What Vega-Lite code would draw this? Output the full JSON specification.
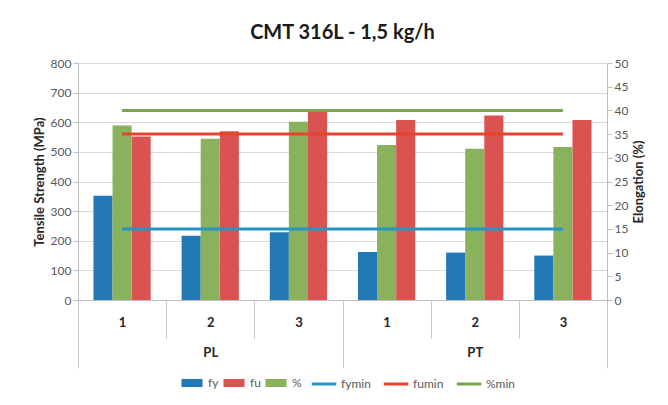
{
  "$schema": "https://vega.github.io/schema/vega-lite/v6.json",
  "width": 529,
  "height": 237,
  "autosize": "none",
  "padding": {"left": 78, "top": 63, "right": 61, "bottom": 105},
  "background": "white",
  "title": {"text": "CMT 316L - 1,5 kg/h", "font": "Lato", "fontSize": 20, "fontWeight": "bold", "color": "#1a1a1a", "offset": 14, "anchor": "middle"},
  "datasets": {
    "bars": [
      {"grp": "PL", "cat": "PL-1", "series": "fy", "value": 352},
      {"grp": "PL", "cat": "PL-1", "series": "%", "value": 36.8},
      {"grp": "PL", "cat": "PL-1", "series": "fu", "value": 552},
      {"grp": "PL", "cat": "PL-2", "series": "fy", "value": 217},
      {"grp": "PL", "cat": "PL-2", "series": "%", "value": 34.0},
      {"grp": "PL", "cat": "PL-2", "series": "fu", "value": 570},
      {"grp": "PL", "cat": "PL-3", "series": "fy", "value": 229},
      {"grp": "PL", "cat": "PL-3", "series": "%", "value": 37.6},
      {"grp": "PL", "cat": "PL-3", "series": "fu", "value": 639},
      {"grp": "PT", "cat": "PT-1", "series": "fy", "value": 162},
      {"grp": "PT", "cat": "PT-1", "series": "%", "value": 32.7},
      {"grp": "PT", "cat": "PT-1", "series": "fu", "value": 608},
      {"grp": "PT", "cat": "PT-2", "series": "fy", "value": 160},
      {"grp": "PT", "cat": "PT-2", "series": "%", "value": 31.9},
      {"grp": "PT", "cat": "PT-2", "series": "fu", "value": 623},
      {"grp": "PT", "cat": "PT-3", "series": "fy", "value": 150},
      {"grp": "PT", "cat": "PT-3", "series": "%", "value": 32.3},
      {"grp": "PT", "cat": "PT-3", "series": "fu", "value": 608}
    ],
    "mins": [
      {"series": "fymin", "unit": "MPa", "value": 240, "from": "PL-1", "to": "PT-3"},
      {"series": "fumin", "unit": "MPa", "value": 560, "from": "PL-1", "to": "PT-3"},
      {"series": "%min", "unit": "%", "value": 40, "from": "PL-1", "to": "PT-3"}
    ]
  },
  "layer": [
    {
      "data": {"name": "bars"},
      "transform": [{"filter": "datum.series != '%'"}],
      "mark": {"type": "bar"},
      "encoding": {
        "x": {
          "field": "cat", "type": "nominal",
          "scale": {"domain": ["PL-1", "PL-2", "PL-3", "PT-1", "PT-2", "PT-3"], "paddingInner": 0, "paddingOuter": 0},
          "axis": {
            "orient": "bottom",
            "title": null, "labelExpr": "split(datum.value, '-')[1]", "labelAngle": 0,
            "labelFontWeight": "bold", "labelFontSize": 13, "labelColor": "#262626",
            "tickBand": "extent", "tickSize": 38, "labelPadding": -22,
            "domainColor": "#bfbfbf", "tickColor": "#c8c8c8", "grid": false
          }
        },
        "xOffset": {"field": "series", "scale": {"domain": ["fy", "%", "fu"], "paddingInner": 0, "paddingOuter": 0.81}},
        "y": {
          "field": "value", "type": "quantitative",
          "scale": {"domain": [0, 800], "nice": false},
          "axis": {
            "title": "Tensile Strength (MPa)", "values": [0, 100, 200, 300, 400, 500, 600, 700, 800],
            "grid": true, "gridColor": "#d9d9d9", "tickSize": 5, "titlePadding": 4
          }
        },
        "fill": {
          "field": "series", "type": "nominal",
          "scale": {"domain": ["fy", "fu", "%"], "range": ["#2279B5", "#DA5350", "#8AB15B"]},
          "legend": {"orient": "none", "legendX": 101, "legendY": 307, "direction": "horizontal", "title": null, "symbolType": "M-0.86,-0.33H0.86V0.33H-0.86Z", "symbolSize": 600, "columnPadding": 2}
        }
      }
    },
    {
      "data": {"name": "bars"},
      "transform": [{"filter": "datum.series == '%'"}],
      "mark": {"type": "bar"},
      "encoding": {
        "x": {"field": "cat", "type": "nominal", "axis": null},
        "xOffset": {"field": "series"},
        "y": {
          "field": "value", "type": "quantitative",
          "scale": {"domain": [0, 50], "nice": false},
          "axis": {
            "orient": "right", "title": "Elongation (%)", "titleAngle": 270, "titleBaseline": "top",
            "values": [0, 5, 10, 15, 20, 25, 30, 35, 40, 45, 50], "grid": false, "tickSize": 5, "titlePadding": 5
          }
        },
        "fill": {"field": "series", "type": "nominal"}
      }
    },
    {
      "data": {"name": "mins"},
      "transform": [{"filter": "datum.unit == 'MPa'"}],
      "mark": {"type": "rule", "strokeWidth": 3},
      "encoding": {
        "x": {
          "field": "from", "type": "nominal",
          "axis": {
            "orient": "bottom",
            "title": null,
            "labelExpr": "datum.value == 'PL-2' ? 'PL' : datum.value == 'PT-2' ? 'PT' : ''",
            "labelAngle": 0, "labelFontWeight": "bold", "labelFontSize": 13, "labelColor": "#262626",
            "tickBand": "extent", "tickSize": 68, "labelPadding": -22, "domain": false, "grid": false,
            "tickColor": "#c8c8c8",
            "tickOpacity": {"condition": {"test": "datum.value == 'PL-3' || datum.value == 'PT-3' || !datum.value", "value": 1}, "value": 0}
          }
        },
        "x2": {"field": "to"},
        "y": {"field": "value", "type": "quantitative", "scale": {"domain": [0, 800], "nice": false}, "axis": null},
        "stroke": {
          "field": "series", "type": "nominal",
          "scale": {"domain": ["fymin", "fumin", "%min"], "range": ["#2694C4", "#E5432D", "#77A64A"]},
          "legend": {"orient": "none", "legendX": 232, "legendY": 307, "direction": "horizontal", "title": null, "symbolType": "stroke", "symbolSize": 600, "symbolStrokeWidth": 3, "columnPadding": 6}
        }
      }
    },
    {
      "data": {"name": "mins"},
      "transform": [{"filter": "datum.unit == '%'"}],
      "mark": {"type": "rule", "strokeWidth": 3},
      "encoding": {
        "x": {"field": "from", "type": "nominal", "axis": null},
        "x2": {"field": "to"},
        "y": {"field": "value", "type": "quantitative", "scale": {"domain": [0, 50], "nice": false}, "axis": null},
        "stroke": {"field": "series", "type": "nominal"}
      }
    }
  ],
  "resolve": {"scale": {"y": "independent"}, "axis": {"x": "independent", "y": "independent"}},
  "config": {
    "font": "Lato",
    "view": {"stroke": null},
    "axis": {
      "labelFont": "Lato", "labelFontSize": 12, "labelColor": "#595959",
      "titleFont": "Lato", "titleFontSize": 13, "titleFontWeight": "bold", "titleColor": "#262626",
      "domainColor": "#bfbfbf", "tickColor": "#bfbfbf"
    },
    "legend": {"labelFont": "Lato", "labelFontSize": 12, "labelColor": "#595959", "labelOffset": 3}
  }
}
